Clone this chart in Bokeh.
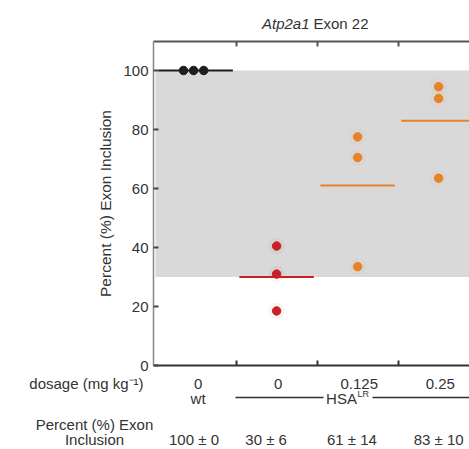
from bokeh.plotting import figure
from bokeh.layouts import column
from bokeh.models import (Range1d, LinearAxis, FixedTicker, BoxAnnotation,
                          ColumnDataSource)
from bokeh.embed import file_html
from bokeh.resources import INLINE
from bokeh.core.properties import value

# ---- data ----
groups = ["wt", "HSA 0", "HSA 0.125", "HSA 0.25"]
dosage_labels = ["0", "0", "0.125", "0.25"]
summary_labels = ["100 \u00b1 0", "30 \u00b1 6", "61 \u00b1 14", "83 \u00b1 10"]
points_wt = [100, 100, 100]
points_hsa0 = [40.5, 31, 18.5]
points_hsa125 = [77.5, 70.5, 33.5]
points_hsa25 = [94.5, 90.5, 63.5]
means = [100, 30, 61, 83]
colors = ["#1e1e1e", "#c8202a", "#e8822a", "#e8822a"]
shade_bottom, shade_top = 30, 100
y_ticks = [0, 20, 40, 60, 80, 100]

FONT = "Liberation Sans"
TXT = "#333333"
FS = "15px"

W = 469
TOP_H, MAIN_H, BOT_H = 32, 340, 77
LEFT = 153
XPX = 81.0   # px per category
x0 = -0.52
x1 = x0 + (W - LEFT) / XPX
MB_TOP, MB_BOT = 9, 7
y1 = (MAIN_H - MB_TOP - MB_BOT) / 2.95

def no_align(f):
    try:
        f.frame_align = False
    except Exception:
        pass
    return f

def strip(h):
    f = figure(width=W, height=h, output_backend="svg", toolbar_location=None,
               x_range=Range1d(x0 - LEFT / XPX, x1), y_range=Range1d(h, 0),
               min_border=0, x_axis_location=None, y_axis_location=None)
    f.outline_line_color = None
    f.grid.visible = False
    return no_align(f)

def sx(px):
    return x0 + (px - LEFT) / XPX

# ---------------- title strip ----------------
top = strip(TOP_H)
top.text(x=[sx(309)], y=[23], text=["Atp2a1"], text_align="right",
         text_baseline="middle", text_font=value(FONT), text_font_size=FS,
         text_font_style="italic", text_color=TXT)
top.text(x=[sx(313)], y=[23], text=["Exon 22"], text_align="left",
         text_baseline="middle", text_font=value(FONT), text_font_size=FS,
         text_color=TXT)

# ---------------- main plot ----------------
p = figure(width=W, height=MAIN_H, output_backend="svg", toolbar_location=None,
           x_range=Range1d(x0, x1), y_range=Range1d(0, y1),
           min_border_left=LEFT, min_border_right=0, min_border_top=MB_TOP,
           min_border_bottom=MB_BOT, x_axis_location=None, y_axis_location=None)
p.outline_line_color = None
p.grid.visible = False
no_align(p)

p.add_layout(BoxAnnotation(bottom=shade_bottom, top=shade_top, left=x0 + 0.025,
                           fill_color="#d9d9d9", fill_alpha=1.0, line_color=None,
                           level="underlay"))

left_axis = LinearAxis(ticker=FixedTicker(ticks=y_ticks),
                       axis_label="Percent (%) Exon Inclusion")
left_axis.axis_line_color = "#888888"
left_axis.axis_line_width = 1.5
left_axis.major_tick_line_color = "#444444"
left_axis.major_tick_line_width = 2
left_axis.major_tick_out = 0
left_axis.major_tick_in = 5
left_axis.minor_tick_line_color = None
left_axis.major_label_text_font = FONT
left_axis.major_label_text_font_size = FS
left_axis.major_label_text_color = TXT
left_axis.major_label_standoff = 5
left_axis.axis_label_text_font = FONT
left_axis.axis_label_text_font_size = "15.5px"
left_axis.axis_label_text_font_style = "normal"
left_axis.axis_label_text_color = TXT
left_axis.axis_label_standoff = 6
p.add_layout(left_axis, "left")

bounds = [0.5, 1.5, 2.5]
for loc, col in (("above", "#555555"), ("below", "#333333")):
    ax = LinearAxis(ticker=FixedTicker(ticks=bounds))
    ax.axis_line_color = col
    ax.axis_line_width = 2
    ax.major_tick_line_color = col
    ax.major_tick_line_width = 2
    ax.major_tick_in = 5
    ax.major_tick_out = 0
    ax.minor_tick_line_color = None
    ax.major_label_text_font_size = "0px"
    ax.major_label_standoff = 0
    ax.major_label_text_color = None
    p.add_layout(ax, loc)

half = 0.46
xs0 = [i - half for i in range(len(groups))]
xs1 = [i + half for i in range(len(groups))]
p.segment(x0=xs0, y0=means, x1=xs1, y1=means, line_color=colors, line_width=2)

jitter_wt = [-0.15, -0.025, 0.1]
all_pts = [points_wt, points_hsa0, points_hsa125, points_hsa25]
for i, (pts, c) in enumerate(zip(all_pts, colors)):
    xs = [i + j for j in jitter_wt] if i == 0 else [i] * len(pts)
    src = ColumnDataSource(dict(x=xs, y=pts))
    if i > 0:
        p.scatter("x", "y", source=src, size=15, fill_color=c, fill_alpha=0.03,
                  line_color=c, line_alpha=0.07)
    p.scatter("x", "y", source=src, size=8.5, fill_color=c, line_color=c)

# ---------------- label strip ----------------
bot = strip(BOT_H)
OFF = TOP_H + MAIN_H  # page y of strip top

def t(f, x, y, txt, align="center", size=FS):
    f.text(x=[x], y=[y - OFF], text=[txt], text_align=align, text_baseline="middle",
           text_font=value(FONT), text_font_size=size, text_color=TXT)

t(bot, sx(143), 383, "dosage (mg kg\u207b\u00b9)", align="right")
dose_shift = [0.03, 0.02, 0.02, 0.02]
bot.text(x=[i + s for i, s in enumerate(dose_shift)], y=[383 - OFF] * 4,
         text=dosage_labels, text_align="center", text_baseline="middle",
         text_font=value(FONT), text_font_size=FS, text_color=TXT)
t(bot, 0.03, 398, "wt")
t(bot, sx(341), 398, "HSA")
t(bot, sx(357), 393, "LR", size="9px", align="left")
bot.segment(x0=[sx(235), sx(372)], y0=[397 - OFF] * 2, x1=[sx(323), sx(480)],
            y1=[397 - OFF] * 2, line_color="#333333", line_width=1.5)

t(bot, sx(94), 424, "Percent (%) Exon")
t(bot, sx(94), 439, "Inclusion")
val_shift = [-0.02, -0.13, -0.07, 0.0]
bot.text(x=[i + s for i, s in enumerate(val_shift)], y=[439 - OFF] * 4,
         text=summary_labels, text_align="center", text_baseline="middle",
         text_font=value(FONT), text_font_size=FS, text_color=TXT)

layout = column(top, p, bot, spacing=0)
open("out.html", "w").write(file_html(layout, INLINE))
